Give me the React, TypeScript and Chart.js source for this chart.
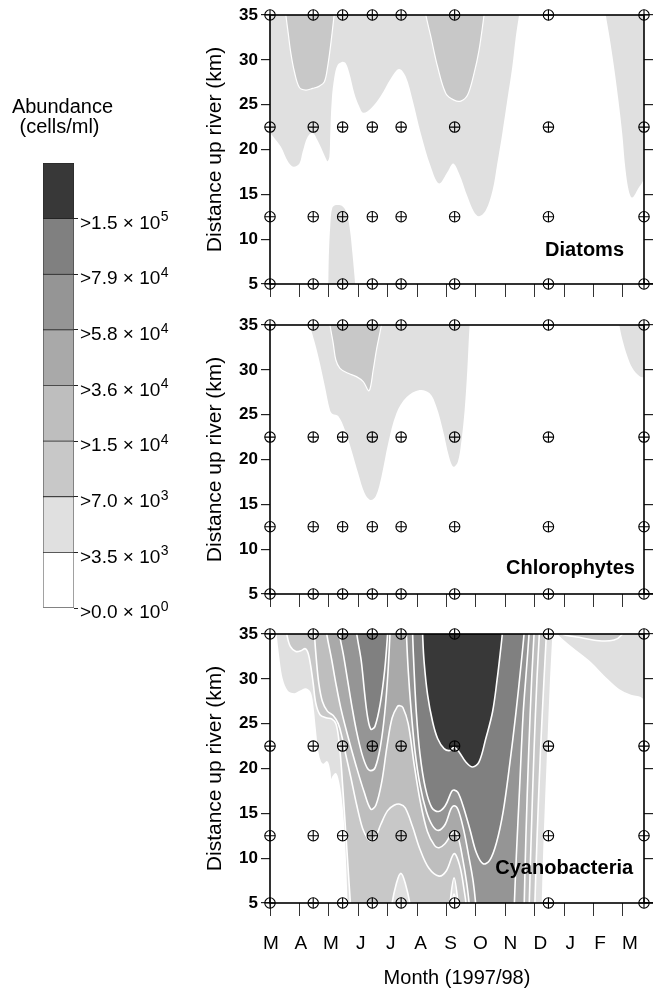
import React, { useEffect, useRef } from 'react';
import { Chart, registerables } from 'chart.js';

Chart.register(...registerables);

type Pt = [number, number];

const FONT = '"Liberation Sans", Arial, Helvetica, sans-serif';

// ---------- categories / ticks ----------
const monthLabels = ['M', 'A', 'M', 'J', 'J', 'A', 'S', 'O', 'N', 'D', 'J', 'F', 'M'];
const sampleMonths = [0, 1.47, 2.47, 3.48, 4.46, 6.28, 9.47, 12.72];
const sampleDepths = [5, 12.5, 22.5, 35];
const levelColors = ['#ffffff', '#e0e0e0', '#c8c8c8', '#bebebe', '#a9a9a9', '#959595', '#808080', '#383838'];
const levelLabelBases = ['>0.0 × 10', '>3.5 × 10', '>7.0 × 10', '>1.5 × 10', '>3.6 × 10', '>5.8 × 10', '>7.9 × 10', '>1.5 × 10'];
const levelLabelExponents = ['0', '3', '3', '4', '4', '4', '4', '5'];
const legendCellHeights = [1, 1, 1, 1, 1, 1, 1, 1];

// ---------- Diatoms contour boundaries [month, km] ----------
const diatomsL1Main: Pt[] = [[0, 35.5], [0, 22.0], [0.12, 21.4], [0.37, 20.3], [0.62, 18.6], [0.80, 18.07], [1.00, 18.44], [1.11, 19.74], [1.28, 21.42], [1.45, 21.86], [1.62, 21.0], [1.78, 19.9], [1.90, 19.0], [1.96, 18.7], [2.02, 19.18], [2.05, 21.8], [2.10, 25.5], [2.19, 28.1], [2.30, 29.42], [2.47, 29.79], [2.58, 29.6], [2.70, 28.49], [2.87, 26.25], [3.04, 24.77], [3.17, 24.10], [3.43, 24.58], [3.77, 26.0], [4.11, 27.93], [4.39, 28.97], [4.62, 28.11], [4.85, 25.51], [5.13, 21.79], [5.47, 18.07], [5.75, 16.21], [6.04, 17.51], [6.23, 18.44], [6.43, 17.32], [6.72, 14.72], [6.94, 13.04], [7.11, 12.56], [7.34, 13.23], [7.57, 15.46], [7.73, 18.44], [7.90, 21.79], [8.07, 25.51], [8.24, 29.23], [8.36, 32.58], [8.47, 35.0], [8.48, 35.5]];
const diatomsL1Right: Pt[] = [[11.40, 35.5], [11.42, 35.0], [11.55, 32.5], [11.70, 29.23], [11.85, 25.5], [11.98, 21.79], [12.09, 17.8], [12.21, 15.3], [12.32, 14.64], [12.49, 15.46], [12.72, 16.95], [12.72, 35.5]];
const diatomsL1Low: Pt[] = [[1.98, 4.0], [2.00, 8.0], [2.05, 11.5], [2.12, 13.5], [2.25, 13.8], [2.45, 13.7], [2.60, 13.0], [2.72, 11.0], [2.80, 8.5], [2.87, 6.0], [2.92, 4.0]];
const diatomsL2Spring: Pt[] = [[0.53, 35.5], [0.54, 35.0], [0.62, 32.95], [0.71, 30.72], [0.83, 28.67], [1.00, 26.92], [1.22, 26.63], [1.45, 26.81], [1.68, 27.07], [1.85, 27.56], [1.96, 29.23], [2.07, 31.84], [2.18, 35.0], [2.19, 35.5]];
const diatomsL2Autumn: Pt[] = [[5.29, 35.5], [5.30, 35.0], [5.47, 32.58], [5.70, 29.23], [5.98, 26.25], [6.26, 25.51], [6.49, 25.4], [6.72, 26.07], [6.94, 28.49], [7.11, 31.09], [7.28, 35.0], [7.29, 35.5]];

// ---------- Chlorophytes ----------
const chloroL1Main: Pt[] = [[1.35, 35.5], [1.36, 35.0], [1.53, 32.96], [1.70, 30.72], [1.87, 28.12], [2.04, 25.52], [2.13, 25.07], [2.32, 24.85], [2.55, 23.29], [2.77, 21.06], [3.00, 18.46], [3.22, 16.23], [3.42, 15.48], [3.60, 15.93], [3.79, 18.09], [4.02, 21.8], [4.30, 25.15], [4.64, 26.93], [5.09, 27.75], [5.43, 27.38], [5.66, 25.89], [5.88, 23.29], [6.09, 20.32], [6.24, 19.2], [6.39, 19.76], [6.50, 21.8], [6.62, 25.52], [6.71, 29.98], [6.76, 33.33], [6.79, 35.0], [6.80, 35.5]];
const chloroL1Right: Pt[] = [[11.87, 35.5], [11.88, 35.0], [11.99, 33.33], [12.16, 31.47], [12.33, 30.17], [12.56, 29.31], [12.72, 29.24], [12.72, 35.5]];
const chloroL2: Pt[] = [[2.03, 35.5], [2.04, 35.0], [2.15, 32.96], [2.24, 31.1], [2.38, 30.17], [2.66, 29.61], [2.94, 29.24], [3.17, 28.68], [3.37, 27.68], [3.51, 29.98], [3.62, 32.21], [3.79, 35.0], [3.80, 35.5]];

// ---------- Cyanobacteria ----------
const cyanoL1Main: Pt[] = [[0.20, 35.5], [0.20, 35.0], [0.28, 32.68], [0.40, 30.07], [0.58, 28.65], [0.83, 28.31], [1.05, 28.65], [1.22, 28.87], [1.37, 28.39], [1.46, 26.71], [1.53, 24.47], [1.62, 21.85], [1.71, 20.73], [1.82, 20.43], [1.94, 20.73], [2.03, 19.61], [2.07, 18.49], [2.14, 19.05], [2.24, 19.39], [2.36, 17.89], [2.47, 14.75], [2.55, 10.27], [2.62, 4.0], [2.62, 3.0], [6.17, 3.0], [6.18, 4.5], [6.26, 6.0], [6.34, 4.5], [6.35, 3.0], [9.26, 3.0], [9.26, 4.0], [9.33, 12.0], [9.45, 22.0], [9.55, 30.0], [9.63, 35.0], [9.63, 35.5]];
const cyanoL1Right: Pt[] = [[9.74, 35.5], [9.74, 35.0], [10.28, 33.43], [10.85, 31.94], [11.42, 30.07], [11.87, 28.76], [12.27, 28.13], [12.60, 27.90], [12.72, 27.6], [12.72, 35.5]];
const cyanoL2Right: Pt[] = [[9.90, 35.5], [9.94, 35.0], [10.51, 34.63], [11.19, 34.25], [11.70, 34.33], [11.96, 34.89], [12.0, 35.5]];
const cyanoL2Main: Pt[] = [[0.57, 35.5], [0.57, 35.0], [0.69, 33.62], [0.88, 33.06], [1.05, 33.13], [1.20, 33.36], [1.30, 32.83], [1.39, 31.34], [1.47, 29.47], [1.56, 27.23], [1.70, 26.0], [1.90, 25.66], [2.11, 25.51], [2.24, 24.99], [2.33, 23.49], [2.41, 20.88], [2.49, 17.14], [2.58, 12.66], [2.67, 8.18], [2.75, 4.0], [2.75, 3.0], [4.12, 3.0], [4.13, 4.5], [4.30, 7.2], [4.45, 8.3], [4.60, 7.2], [4.78, 4.5], [4.79, 3.0], [6.10, 3.0], [6.11, 4.5], [6.26, 7.8], [6.41, 4.5], [6.42, 3.0], [9.00, 3.0], [9.00, 4.0], [9.08, 12.0], [9.20, 22.0], [9.32, 30.0], [9.40, 35.0], [9.40, 35.5]];
const cyanoL3: Pt[] = [[1.51, 35.5], [1.51, 35.0], [1.58, 32.0], [1.66, 29.5], [1.78, 27.5], [1.95, 26.4], [2.15, 25.9], [2.32, 25.0], [2.45, 23.5], [2.58, 21.5], [2.75, 19.0], [2.95, 15.9], [3.15, 13.3], [3.32, 12.2], [3.43, 11.91], [3.57, 12.2], [3.77, 13.78], [4.00, 15.3], [4.22, 15.9], [4.42, 16.02], [4.60, 15.6], [4.85, 13.5], [5.10, 11.0], [5.40, 8.9], [5.75, 8.0], [6.00, 8.6], [6.26, 10.5], [6.45, 9.2], [6.60, 6.5], [6.70, 4.0], [6.70, 3.0], [8.81, 3.0], [8.81, 4.0], [8.88, 12.0], [8.98, 22.0], [9.08, 30.0], [9.16, 35.0], [9.16, 35.5]];
const cyanoL4: Pt[] = [[1.93, 35.5], [1.93, 35.0], [2.10, 32.1], [2.24, 29.5], [2.41, 26.7], [2.64, 23.7], [2.92, 20.4], [3.20, 17.4], [3.43, 15.46], [3.60, 15.9], [3.80, 18.5], [3.98, 22.5], [4.15, 25.6], [4.33, 26.9], [4.42, 27.0], [4.52, 26.8], [4.70, 25.0], [4.90, 20.5], [5.10, 16.5], [5.35, 13.0], [5.60, 11.4], [5.75, 11.17], [5.95, 11.6], [6.15, 12.6], [6.26, 13.0], [6.40, 12.3], [6.55, 10.0], [6.70, 7.0], [6.80, 4.0], [6.80, 3.0], [8.64, 3.0], [8.64, 4.0], [8.70, 12.0], [8.80, 22.0], [8.90, 30.0], [8.98, 35.0], [8.98, 35.5]];
const cyanoL5June: Pt[] = [[2.36, 35.5], [2.36, 35.0], [2.49, 32.8], [2.64, 29.84], [2.79, 26.85], [2.94, 24.2], [3.13, 21.6], [3.30, 20.1], [3.43, 19.76], [3.58, 20.13], [3.75, 22.37], [3.90, 26.11], [4.01, 30.6], [4.08, 35.0], [4.08, 35.5]];
const cyanoL5Autumn: Pt[] = [[4.64, 35.5], [4.64, 35.0], [4.70, 31.0], [4.80, 26.5], [4.93, 22.0], [5.10, 18.2], [5.32, 15.2], [5.53, 13.6], [5.73, 13.1], [5.96, 13.78], [6.15, 15.46], [6.26, 15.84], [6.39, 15.46], [6.57, 13.4], [6.75, 10.4], [6.91, 7.4], [7.02, 4.0], [7.02, 3.0], [8.30, 3.0], [8.30, 4.0], [8.38, 10.4], [8.49, 17.9], [8.61, 26.1], [8.72, 30.97], [8.81, 35.0], [8.81, 35.5]];
const cyanoL6June: Pt[] = [[2.95, 35.5], [2.95, 35.0], [3.10, 32.09], [3.22, 28.35], [3.32, 25.74], [3.43, 24.39], [3.57, 24.7], [3.75, 27.23], [3.90, 30.97], [4.00, 35.0], [4.00, 35.5]];
const cyanoL6Autumn: Pt[] = [[4.85, 35.5], [4.85, 35.0], [4.90, 30.97], [4.98, 26.11], [5.10, 21.63], [5.28, 17.89], [5.50, 15.65], [5.73, 15.2], [5.96, 15.84], [6.18, 17.44], [6.27, 17.59], [6.39, 17.33], [6.57, 15.80], [6.80, 13.2], [7.02, 10.6], [7.25, 9.37], [7.47, 9.75], [7.70, 11.7], [7.93, 15.2], [8.15, 20.4], [8.36, 26.1], [8.53, 31.3], [8.64, 35.0], [8.64, 35.5]];
const cyanoL7: Pt[] = [[5.19, 35.5], [5.19, 35.0], [5.24, 31.94], [5.36, 28.2], [5.53, 25.21], [5.70, 23.35], [5.92, 22.22], [6.12, 22.0], [6.26, 22.37], [6.43, 21.85], [6.66, 20.73], [6.89, 20.17], [7.11, 20.73], [7.34, 23.35], [7.57, 26.33], [7.73, 30.07], [7.85, 33.43], [7.90, 35.0], [7.90, 35.5]];

type Layer = { pts: Pt[]; level: number; lw: number };

const diatomsLayers: Layer[] = [
  { pts: diatomsL1Main, level: 1, lw: 0 },
  { pts: diatomsL1Right, level: 1, lw: 0 },
  { pts: diatomsL1Low, level: 1, lw: 0 },
  { pts: diatomsL2Spring, level: 2, lw: 1.2 },
  { pts: diatomsL2Autumn, level: 2, lw: 1.2 },
];
const chloroLayers: Layer[] = [
  { pts: chloroL1Main, level: 1, lw: 0 },
  { pts: chloroL1Right, level: 1, lw: 0 },
  { pts: chloroL2, level: 2, lw: 1.2 },
];
const cyanoLayers: Layer[] = [
  { pts: cyanoL1Main, level: 1, lw: 1.6 },
  { pts: cyanoL1Right, level: 1, lw: 1.6 },
  { pts: cyanoL2Main, level: 2, lw: 1.6 },
  { pts: cyanoL2Right, level: 2, lw: 1.6 },
  { pts: cyanoL3, level: 3, lw: 1.6 },
  { pts: cyanoL4, level: 4, lw: 1.6 },
  { pts: cyanoL5June, level: 5, lw: 1.6 },
  { pts: cyanoL5Autumn, level: 5, lw: 1.6 },
  { pts: cyanoL6June, level: 6, lw: 1.6 },
  { pts: cyanoL6Autumn, level: 6, lw: 1.6 },
  { pts: cyanoL7, level: 7, lw: 1.6 },
];

const panelNames = ['Diatoms', 'Chlorophytes', 'Cyanobacteria'];
const panelNameAnchors: Pt[] = [[12.04, 8.7], [12.41, 7.9], [12.35, 8.9]];

const X_MAX = 12.72;

function zeroPad(s: any) {
  s.paddingTop = 0;
  s.paddingBottom = 0;
  s.paddingLeft = 0;
  s.paddingRight = 0;
}

function contourDataset(layer: Layer) {
  return {
    data: layer.pts.map(([x, y]) => ({ x, y })),
    showLine: true,
    fill: 'shape',
    backgroundColor: levelColors[layer.level],
    borderColor: '#ffffff',
    borderWidth: layer.lw,
    pointRadius: 0,
    pointHoverRadius: 0,
    tension: 0.35,
    capBezierPoints: false,
    order: 10 - layer.level,
  };
}

function sampleDatasets() {
  const pts = sampleDepths.flatMap((d) => sampleMonths.map((m) => ({ x: m, y: d })));
  const base = {
    data: pts,
    showLine: false,
    pointRadius: 5.2,
    pointHoverRadius: 5.2,
    pointBorderColor: '#000',
    pointBackgroundColor: 'rgba(0,0,0,0)',
    pointBorderWidth: 1.1,
    clip: false as any,
    order: 0,
  };
  return [
    { ...base, pointStyle: 'circle' },
    { ...base, pointStyle: 'cross' },
  ];
}

function panelPlugin(name: string, anchor: Pt) {
  return {
    id: 'panelDecor',
    afterDatasetsDraw(chart: any) {
      const { ctx, chartArea } = chart;
      const { left, right, top, bottom } = chartArea;
      ctx.save();
      ctx.strokeStyle = '#000';
      ctx.lineWidth = 1.6;
      ctx.strokeRect(left, top, right - left, bottom - top);
      ctx.beginPath();
      ctx.moveTo(right, bottom);
      ctx.lineTo(right + 9, bottom);
      ctx.stroke();
      ctx.font = `bold 20px ${FONT}`;
      ctx.fillStyle = '#000';
      ctx.textAlign = 'right';
      ctx.textBaseline = 'middle';
      ctx.fillText(name, chart.scales.x.getPixelForValue(anchor[0]), chart.scales.y.getPixelForValue(anchor[1]));
      ctx.restore();
    },
  };
}

function panelConfig(layers: Layer[], idx: number, withMonths: boolean, bottomH: number): any {
  const datasets: any[] = [...sampleDatasets(), ...layers.map(contourDataset)];
  const scales: any = {
    x: {
      type: 'linear',
      position: 'bottom',
      weight: 0,
      min: 0,
      max: X_MAX,
      ticks: { stepSize: 1, includeBounds: false, autoSkip: false, maxRotation: 0, callback: () => '' },
      grid: { drawOnChartArea: false, drawTicks: true, tickLength: 13, color: '#333', lineWidth: 1 },
      border: { display: false },
      afterFit: (s: any) => {
        s.height = withMonths ? 13 : bottomH;
        zeroPad(s);
      },
    },
    y: {
      type: 'linear',
      position: 'left',
      min: 5,
      max: 35,
      ticks: { stepSize: 5, autoSkip: false, padding: 3, color: '#000', font: { family: FONT, size: 17, weight: 'bold' } },
      grid: { drawOnChartArea: false, tickLength: 9, color: '#222', lineWidth: 1.2 },
      border: { display: false },
      title: {
        display: true,
        text: 'Distance up river (km)',
        color: '#000',
        font: { family: FONT, size: 21 },
        padding: { top: 13, bottom: 0 },
      },
      afterFit: (s: any) => {
        s.width = 80;
        zeroPad(s);
      },
    },
    yr: {
      type: 'linear',
      position: 'right',
      min: 5,
      max: 35,
      ticks: { stepSize: 5, autoSkip: false, callback: () => '' },
      grid: { drawOnChartArea: false, tickLength: 9, color: '#222', lineWidth: 1.2 },
      border: { display: false },
      afterFit: (s: any) => {
        s.width = 9;
        zeroPad(s);
      },
    },
  };
  if (withMonths) {
    scales.xl = {
      type: 'linear',
      position: 'bottom',
      weight: 1,
      min: -0.0334,
      max: 12.468,
      ticks: {
        stepSize: 1,
        includeBounds: false,
        autoSkip: false,
        maxRotation: 0,
        padding: 16,
        color: '#000',
        font: { family: FONT, size: 19 },
        callback: (v: number) => monthLabels[Math.round(v)] ?? '',
      },
      grid: { display: false, drawTicks: false },
      border: { display: false },
      title: {
        display: true,
        text: 'Month (1997/98)',
        color: '#000',
        font: { family: FONT, size: 20 },
        padding: { top: 0, bottom: 2 },
      },
      afterFit: (s: any) => {
        s.height = bottomH - 13;
        zeroPad(s);
      },
    };
  }
  return {
    type: 'scatter',
    data: { datasets },
    options: {
      animation: false,
      responsive: false,
      events: [],
      layout: { padding: { top: 15, left: 0, right: 0, bottom: 0 } },
      plugins: { legend: { display: false }, tooltip: { enabled: false }, title: { display: false } },
      scales,
    },
    plugins: [panelPlugin(panelNames[idx], panelNameAnchors[idx])],
  };
}

const legendTextPlugin = {
  id: 'legendText',
  afterDraw(chart: any) {
    const { ctx, chartArea } = chart;
    const yScale = chart.scales.y;
    const cx = (chartArea.left + chartArea.right) / 2 + 4;
    ctx.save();
    ctx.fillStyle = '#000';
    ctx.textBaseline = 'middle';
    ctx.textAlign = 'center';
    ctx.font = `20px ${FONT}`;
    ctx.fillText('Abundance', cx, chartArea.top - 56);
    ctx.fillText('(cells/ml)', cx - 3, chartArea.top - 36);
    ctx.textAlign = 'left';
    const x0 = chartArea.right + 6;
    levelLabelBases.forEach((base, i) => {
      const y = yScale.getPixelForValue(i) + 5;
      ctx.font = `19px ${FONT}`;
      ctx.fillText(base, x0, y);
      const w = ctx.measureText(base).width;
      ctx.font = `14px ${FONT}`;
      ctx.fillText(levelLabelExponents[i], x0 + w + 0.5, y - 6);
    });
    ctx.restore();
  },
};

function legendConfig(): any {
  return {
    type: 'bar',
    data: {
      labels: [''],
      datasets: legendCellHeights.map((h, i) => ({
        data: [h],
        backgroundColor: levelColors[i],
        borderColor: '#222',
        borderWidth: 0.75,
        borderSkipped: false,
        barPercentage: 1,
        categoryPercentage: 1,
      })),
    },
    options: {
      animation: false,
      responsive: false,
      events: [],
      layout: { padding: { left: 43, top: 163, bottom: 42, right: 0 } },
      plugins: { legend: { display: false }, tooltip: { enabled: false } },
      scales: {
        x: { display: false, stacked: true },
        y: {
          position: 'right',
          stacked: true,
          min: 0,
          max: 8,
          ticks: { stepSize: 1, autoSkip: false, callback: () => '' },
          grid: {
            drawOnChartArea: false,
            tickLength: 4,
            color: (c: any) => (c.tick && c.tick.value === 8 ? 'rgba(0,0,0,0)' : '#222'),
          },
          border: { display: false },
          afterFit: (s: any) => {
            s.width = 116;
            zeroPad(s);
          },
        },
      },
    },
    plugins: [legendTextPlugin],
  };
}

function ChartBox({ make, left, top, width, height }: { make: () => any; left: number; top: number; width: number; height: number }) {
  const ref = useRef<HTMLCanvasElement>(null);
  useEffect(() => {
    const chart = new Chart(ref.current as HTMLCanvasElement, make());
    return () => chart.destroy();
  }, []);
  return (
    <canvas
      ref={ref}
      width={width}
      height={height}
      style={{ position: 'absolute', left, top, width, height, display: 'block' }}
    />
  );
}

export default function App() {
  return (
    <div style={{ position: 'absolute', left: 0, top: 0, width: 653, height: 992, background: '#fff', overflow: 'hidden' }}>
      <ChartBox make={legendConfig} left={0} top={0} width={190} height={650} />
      <ChartBox make={() => panelConfig(diatomsLayers, 0, false, 16)} left={190} top={0} width={463} height={300} />
      <ChartBox make={() => panelConfig(chloroLayers, 1, false, 16)} left={190} top={310} width={463} height={300} />
      <ChartBox make={() => panelConfig(cyanoLayers, 2, true, 89)} left={190} top={619} width={463} height={373} />
    </div>
  );
}
